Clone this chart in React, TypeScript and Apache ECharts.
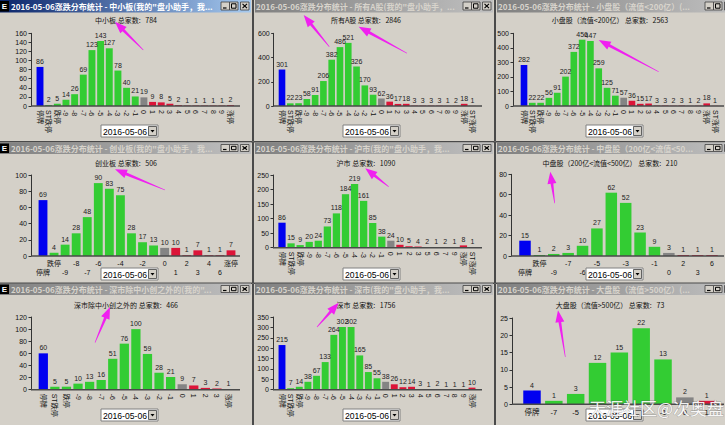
import React, { useEffect, useRef } from 'react';
import * as echarts from 'echarts';

const DATE = '2016-05-06';

// ---- data ----
const cats1 = ['停牌','ST跌停','跌停','-9','-8','-7','-6','-5','-4','-3','-2','-1','0','1','2','3','4','5','6','7','8','9','涨停'];
const vals1 = [86,2,5,14,26,69,123,143,127,78,40,21,19,9,8,5,2,1,1,1,1,1,2];
const cats2 = ['停牌','ST跌停','跌停','-9','-8','-7','-6','-5','-4','-3','-2','-1','0','1','2','3','4','5','6','7','8','9','涨停','ST涨停'];
const vals2 = [301,22,23,58,91,206,382,486,521,326,170,93,62,36,17,18,3,3,3,3,1,2,18,1];
const cats3 = ['停牌','ST跌停','跌停','-9','-8','-7','-6','-5','-4','-3','-2','-1','0','1','2','3','4','5','6','7','8','9','涨停','ST涨停'];
const vals3 = [282,22,22,56,91,202,372,456,447,259,125,71,57,36,15,17,3,3,2,3,1,2,18,1];
const cats4 = ['停牌','跌停','-9','-8','-7','-6','-5','-4','-3','-2','-1','0','1','2','3','4','6','涨停'];
const vals4 = [69,4,14,28,48,90,83,75,28,17,13,10,10,1,7,1,1,7];
const cats5 = ['停牌','ST跌停','跌停','-9','-8','-7','-6','-5','-4','-3','-2','-1','0','1','2','3','5','6','7','9','涨停','ST涨停'];
const vals5 = [86,15,9,20,24,73,118,184,219,161,85,38,24,10,5,4,2,1,2,1,8,1];
const cats6 = ['停牌','跌停','-9','-7','-6','-5','-4','-3','-2','-1','0','2','3','6'];
const vals6 = [15,1,2,3,10,27,62,52,23,9,3,1,1,1];
const cats7 = ['停牌','ST跌停','跌停','-9','-8','-7','-6','-5','-4','-3','-2','-1','0','1','2','3','涨停'];
const vals7 = [60,5,5,10,13,16,51,76,100,59,28,21,9,7,3,2,1];
const cats8 = ['停牌','ST跌停','跌停','-9','-8','-7','-6','-5','-4','-3','-2','-1','0','1','2','3','4','5','6','7','8','9','涨停'];
const vals8 = [215,7,14,38,67,133,264,302,302,165,85,55,38,26,12,14,3,1,2,1,1,1,10];
const cats9 = ['停牌','-7','-5','-4','-3','-2','-1','0','1'];
const vals9 = [4,1,3,12,15,22,13,2,1];

const names = ['中小板','所有A股','小盘股（流值<200亿）','创业板','沪市','中盘股（200亿<流值<500亿）','深市除中小创之外的','深市','大盘股（流值>500亿）'];
const totals = [784,2846,2563,506,1090,210,466,1756,73];
const yMaxes = [160,600,500,100,250,80,120,350,25];
const yIntervals = [20,200,100,20,50,20,20,50,5];
const labelModes = ['rot','rot','rot','alt','rot','alt','rot','rot','flat'];
const windowTitles = [
  '2016-05-06涨跌分布统计 - 中小板(我的"盘小助手，我所...',
  '2016-05-06涨跌分布统计 - 所有A股(我的"盘小助手，我...',
  '2016-05-06涨跌分布统计 - 小盘股（流值<200亿）(我的"...',
  '2016-05-06涨跌分布统计 - 创业板(我的"盘小助手，我所...',
  '2016-05-06涨跌分布统计 - 沪市(我的"盘小助手，我所发...',
  '2016-05-06涨跌分布统计 - 中盘股（200亿<流值<500亿）...',
  '2016-05-06涨跌分布统计 - 深市除中小创之外的(我的"盘...',
  '2016-05-06涨跌分布统计 - 深市(我的"盘小助手，我所发...',
  '2016-05-06涨跌分布统计 - 大盘股（流值>500亿）(我的"...',
];
const watermark = '天涯社区@次奥盘';

const catsList = [cats1, cats2, cats3, cats4, cats5, cats6, cats7, cats8, cats9];
const valsList = [vals1, vals2, vals3, vals4, vals5, vals6, vals7, vals8, vals9];

// ---- layout (pixels) ----
const layout = [
  { ax: 31, c0: 40, c1: 230.5, top: 33.3, bot: 106, end: 240 },
  { ax: 273.7, c0: 282, c1: 472.5, top: 33.3, bot: 106, end: 482 },
  { ax: 513, c0: 524, c1: 715, top: 33.3, bot: 106, end: 724 },
  { ax: 31, c0: 43, c1: 231, top: 175, bot: 256, end: 240 },
  { ax: 273, c0: 282, c1: 472.5, top: 175, bot: 247.7, end: 482 },
  { ax: 511, c0: 525, c1: 712, top: 174.3, bot: 256, end: 724 },
  { ax: 31, c0: 43.3, c1: 228.5, top: 317, bot: 389.7, end: 240 },
  { ax: 273, c0: 282, c1: 472, top: 317, bot: 389.7, end: 482 },
  { ax: 512, c0: 532, c1: 706.7, top: 318, bot: 404.3, end: 724 },
];
const cols = [{ l: -3, r: 252, tx: 11, sub: 126, dd: 101 }, { l: 253, r: 494, tx: 256, sub: 366, dd: 343 }, { l: 495, r: 736, tx: 498, sub: 610, dd: 586 }];
const rows = [{ t: -3, b: 141, tt: 0, th: 12.5, sub: 20, dd: 125 }, { t: 141.5, b: 282.5, tt: 142.5, th: 11.5, sub: 163, dd: 268 }, { t: 283, b: 428, tt: 283.5, th: 11.5, sub: 305, dd: 409 }];
const arrows = [
  [115, 21.7, 143.3, 50],
  [303.7, 15, 329.3, 46.7],
  [358.7, 26.7, 407, 53.3],
  [598.7, 40, 658.7, 71.7],
  [115, 169.3, 165, 190],
  [365.3, 168.3, 388.7, 186.7],
  [550.3, 171.7, 554.7, 203.3],
  [110, 307, 95, 342.7],
  [338.7, 302.7, 317, 327],
  [558, 310.3, 565.3, 357],
];

const FONT = '"Liberation Sans", "Noto Sans CJK SC", sans-serif';
const CJK = '"Noto Sans CJK SC", "Liberation Sans", sans-serif';

function colorOf(c: string) {
  if (c === '停牌') return '#0000f0';
  if (c === '0') return '#848484';
  if (c.startsWith('-') || c.includes('跌')) return '#33cc33';
  return '#dc1438';
}

function arrowPts(tx: number, ty: number, sx: number, sy: number) {
  const dx = tx - sx, dy = ty - sy;
  const L = Math.hypot(dx, dy);
  const ux = dx / L, uy = dy / L, nx = -uy, ny = ux;
  const hl = Math.min(12, L * 0.4), hw = 4.5, sw = 1.4, tw = 0.3;
  const bx = tx - ux * hl, by = ty - uy * hl;
  return [
    [sx + nx * tw, sy + ny * tw],
    [bx + nx * sw, by + ny * sw],
    [bx + nx * hw, by + ny * hw],
    [tx, ty],
    [bx - nx * hw, by - ny * hw],
    [bx - nx * sw, by - ny * sw],
    [sx - nx * tw, sy - ny * tw],
  ];
}

function buildOption() {
  const grids: any[] = [], xAxes: any[] = [], yAxes: any[] = [], series: any[] = [];
  const g: any[] = [];

  for (let i = 0; i < 9; i++) {
    const cats = catsList[i], vals = valsList[i], L = layout[i];
    const n = cats.length;
    const s = (L.c1 - L.c0) / (n - 1);
    const left = L.c0 - s / 2;
    const width = L.c1 - L.c0 + s;
    grids.push({ left, top: L.top, width, height: L.bot - L.top, containLabel: false, outerBoundsMode: 'none', show: false });
    const mode = labelModes[i];
    const axisLabel: any = { interval: 0, fontSize: 7, color: '#111', fontFamily: FONT };
    if (mode === 'rot') { axisLabel.rotate = -90; axisLabel.margin = 4; }
    else if (mode === 'alt') {
      axisLabel.margin = 3; axisLabel.lineHeight = 9;
      axisLabel.formatter = (v: string, idx: number) => (idx % 2 === 0 ? '\n' + v : v);
    } else { axisLabel.margin = 4; axisLabel.fontSize = 7.5; }
    xAxes.push({ type: 'category', gridIndex: i, data: cats, axisLine: { show: false }, axisTick: { show: false }, axisLabel, splitLine: { show: false } });
    yAxes.push({
      type: 'value', gridIndex: i, min: 0, max: yMaxes[i], interval: yIntervals[i], offset: left - L.ax,
      axisLine: { show: true, lineStyle: { color: '#333', width: 1 } },
      axisTick: { show: true, length: 2.5, lineStyle: { color: '#333' } },
      axisLabel: { fontSize: 7, color: '#111', margin: 4, fontFamily: FONT },
      splitLine: { show: false },
    });
    series.push({
      type: 'bar', xAxisIndex: i, yAxisIndex: i, barWidth: '80%',
      data: vals.map((v, j) => ({ value: v, itemStyle: { color: colorOf(cats[j]) } })),
      label: { show: true, position: 'top', distance: 2, fontSize: 7, color: '#222', fontFamily: FONT },
    });

    const c = cols[i % 3], r = rows[Math.floor(i / 3)];
    const active = i === 0;
    // window frame
    g.push({ type: 'rect', z: -10, shape: { x: c.l + 0.5, y: r.t + 0.5, width: c.r - c.l, height: r.b - r.t }, style: { fill: '#d4d0c8', stroke: '#4a4a4a', lineWidth: 1 } });
    // title bar
    const tbx = c.l + 2, tbw = c.r - c.l - 3;
    g.push({
      type: 'rect', z: -9, shape: { x: tbx, y: r.tt, width: tbw, height: r.th },
      style: { fill: new echarts.graphic.LinearGradient(0, 0, 1, 0, active ? [{ offset: 0, color: '#0a246a' }, { offset: 1, color: '#a6caf0' }] : [{ offset: 0, color: '#808080' }, { offset: 1, color: '#c0c0c0' }]) },
    });
    g.push({
      type: 'text', z: -8,
      style: { text: windowTitles[i], x: c.tx, y: r.tt + r.th / 2 + 0.5, fill: active ? '#ffffff' : '#d8d4cc', fontSize: 8, fontWeight: 'bold', fontFamily: CJK, verticalAlign: 'middle', align: 'left', width: c.r - 36 - c.tx, overflow: 'truncate', ellipsis: '...' },
    });
    if (i % 3 === 0) {
      g.push({ type: 'rect', z: -8, shape: { x: 0, y: r.tt + 1, width: 9, height: r.th - 2 }, style: { fill: '#000' } });
      g.push({ type: 'text', z: -7, style: { text: 'E', x: 4.5, y: r.tt + r.th / 2 + 0.5, fill: '#fff', fontSize: 8, fontWeight: 'bold', fontFamily: FONT, align: 'center', verticalAlign: 'middle' } });
    }
    // buttons
    const by = r.tt + 2, bh = r.th - 4.5;
    const bxs = [c.r - 31, c.r - 22.5, c.r - 11.5];
    bxs.forEach((bx, k) => {
      g.push({ type: 'rect', z: -8, shape: { x: bx, y: by, width: 8.5, height: bh }, style: { fill: '#d4d0c8', stroke: '#404040', lineWidth: 0.8 } });
      if (k === 0) g.push({ type: 'line', z: -7, shape: { x1: bx + 2, y1: by + bh - 2, x2: bx + 5.5, y2: by + bh - 2 }, style: { stroke: '#000', lineWidth: 1.2 } });
      if (k === 1) g.push({ type: 'rect', z: -7, shape: { x: bx + 2, y: by + 1.8, width: 4.5, height: bh - 3.6 }, style: { fill: 'none', stroke: '#000', lineWidth: 1 } });
      if (k === 2) {
        g.push({ type: 'line', z: -7, shape: { x1: bx + 2, y1: by + 1.8, x2: bx + 6.5, y2: by + bh - 1.8 }, style: { stroke: '#000', lineWidth: 1.1 } });
        g.push({ type: 'line', z: -7, shape: { x1: bx + 6.5, y1: by + 1.8, x2: bx + 2, y2: by + bh - 1.8 }, style: { stroke: '#000', lineWidth: 1.1 } });
      }
    });
    // subtitle
    g.push({ type: 'text', z: 5, style: { text: names[i] + ' 总家数:   ' + totals[i], x: c.sub, y: r.sub, fill: '#111', fontSize: 7, fontFamily: CJK, align: 'center', verticalAlign: 'middle' } });
    // x axis line
    g.push({ type: 'line', z: 5, shape: { x1: L.ax, y1: L.bot, x2: L.end, y2: L.bot }, style: { stroke: '#4a4a4a', lineWidth: 1.5 } });
    // dropdown
    const dx = c.dd, dy = r.dd, dw = 57, dh = 12;
    g.push({ type: 'rect', z: 50, shape: { x: dx, y: dy, width: dw, height: dh }, style: { fill: '#ffffff', stroke: '#808080', lineWidth: 1 } });
    g.push({ type: 'text', z: 51, style: { text: DATE, x: dx + 2, y: dy + dh / 2 + 0.5, fill: '#000', fontSize: 8.6, fontFamily: FONT, align: 'left', verticalAlign: 'middle' } });
    g.push({ type: 'rect', z: 51, shape: { x: dx + dw - 9.5, y: dy + 1.5, width: 8, height: dh - 3 }, style: { fill: '#d4d0c8', stroke: '#404040', lineWidth: 0.8 } });
    g.push({ type: 'polygon', z: 52, shape: { points: [[dx + dw - 7.5, dy + 5], [dx + dw - 3.5, dy + 5], [dx + dw - 5.5, dy + 7.5]] }, style: { fill: '#000' } });
  }

  arrows.forEach(([tx, ty, sx, sy]) => {
    g.push({ type: 'polygon', z: 60, shape: { points: arrowPts(tx, ty, sx, sy) }, style: { fill: '#f020f0' } });
  });

  g.push({ type: 'text', z: 70, style: { text: watermark, x: 589, y: 407, fill: 'rgba(255,255,255,0.92)', fontSize: 17, fontFamily: CJK, align: 'left', verticalAlign: 'middle', stroke: 'rgba(90,90,90,0.45)', lineWidth: 0.8 } });

  return {
    animation: false,
    backgroundColor: '#d4d0c8',
    textStyle: { fontFamily: FONT },
    grid: grids,
    xAxis: xAxes,
    yAxis: yAxes,
    series,
    graphic: { elements: g },
  };
}

export default function App() {
  const ref = useRef<HTMLDivElement>(null);
  useEffect(() => {
    const chart = echarts.init(ref.current as HTMLDivElement, null, { renderer: 'svg', width: 725, height: 425 });
    chart.setOption(buildOption() as any);
    return () => chart.dispose();
  }, []);
  return <div ref={ref} style={{ position: 'fixed', left: 0, top: 0, width: 725, height: 425 }} />;
}
